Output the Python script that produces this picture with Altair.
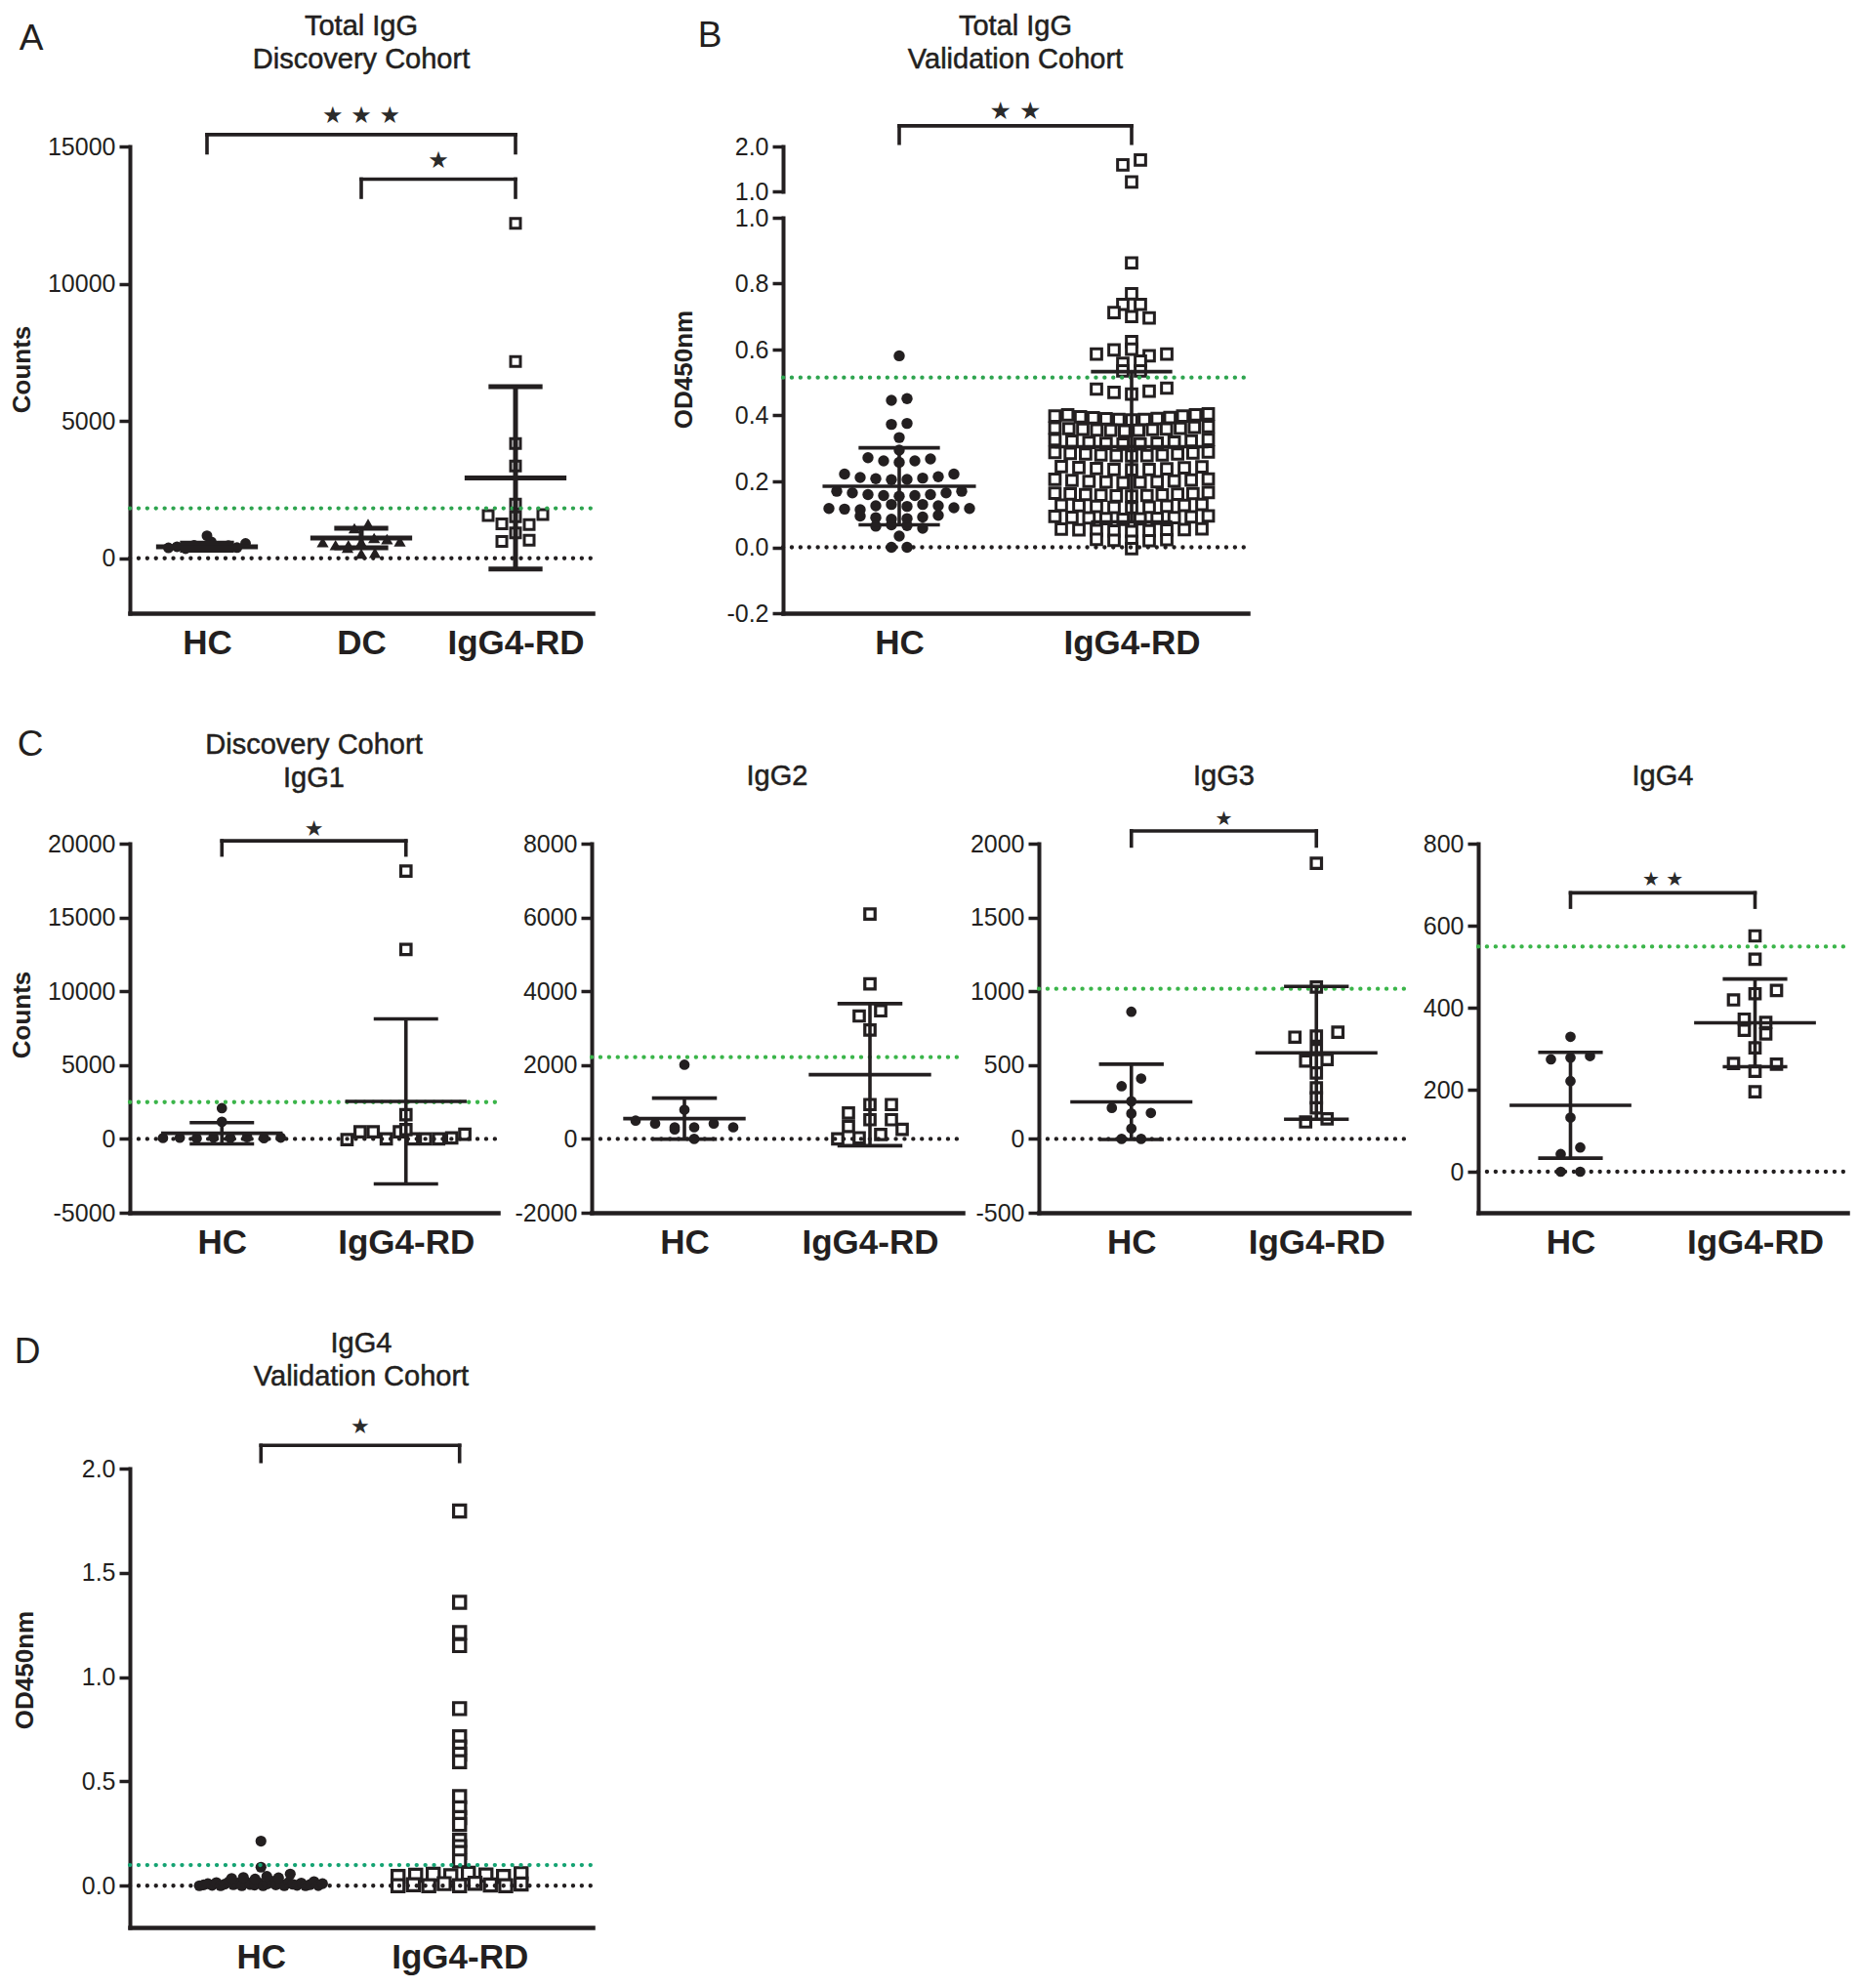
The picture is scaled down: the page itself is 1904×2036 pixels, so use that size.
import altair as alt
import pandas as pd

# ---------------- fonts and colours ----------------
FONT = "Liberation Sans"
STAR_FONT = "DejaVu Sans"
INK = "#231f20"
GREEN_AB = "#2ea44f"
GREEN_C = "#3bb54a"
GREEN_D = "#14a372"

# ---------------- values ----------------
# A: Total IgG, discovery cohort (counts)
A_GROUPS = ["HC", "DC", "IgG4-RD"]
A_HC = [380, 420, 350, 470, 440, 600, 410, 460, 390, 540, 820]
A_DC = [1095, 585, 480, 385, 170, 200, 480, 585, 740, 700, 1250, 620]
A_RD = [12195, 7170, 4180, 3360, 1970, 1250, 925, 1560, 1510, 1590, 1230, 615, 660]
A_MEAN = [420, 740, 2930]
A_SD = [130, 355, 3320]
A_CUTOFF = 1820
A_BRACKETS = [(0, 2, 15430, 14770, 16110, "★ ★ ★"),
              (1, 2, 13810, 13150, 14460, "★")]

# B: Total IgG, validation cohort (OD450nm)
B_GROUPS = ["HC", "IgG4-RD"]
B_HC = [0.581, 0.446, 0.451, 0.373, 0.376, 0.333, 0.295,
        0.272, 0.262, 0.258, 0.262, 0.268,
        0.222, 0.212, 0.208, 0.205, 0.206, 0.210, 0.214, 0.222,
        0.170, 0.165, 0.160, 0.157, 0.155, 0.157, 0.160, 0.165, 0.170,
        0.118, 0.116, 0.114, 0.126, 0.130, 0.124, 0.130, 0.126, 0.120, 0.118,
        0.095, 0.090, 0.085, 0.087, 0.092, 0.097,
        0.064, 0.068, 0.066, 0.058,
        0.034, 0.0, 0.0]
B_RD = [0.863, 0.769, 0.737, 0.737, 0.712, 0.700, 0.696, 0.624,
        0.586, 0.599, 0.601, 0.581, 0.586,
        0.558, 0.565, 0.535, 0.535,
        0.480, 0.470, 0.465, 0.474, 0.483,
        0.398, 0.402, 0.396, 0.393, 0.390, 0.388, 0.386, 0.388, 0.391, 0.394, 0.398, 0.402, 0.405,
        0.362, 0.360, 0.358, 0.356, 0.355, 0.353, 0.355, 0.357, 0.359, 0.361, 0.364, 0.366,
        0.326, 0.322, 0.318, 0.315, 0.313, 0.314, 0.316, 0.319, 0.323, 0.327,
        0.288, 0.285, 0.283, 0.280, 0.278, 0.277, 0.278, 0.280, 0.283, 0.286, 0.289,
        0.245, 0.242, 0.239, 0.236, 0.235, 0.236, 0.238, 0.241, 0.244,
        0.206, 0.203, 0.200, 0.198, 0.196, 0.197, 0.199, 0.201, 0.204, 0.207,
        0.164, 0.162, 0.160, 0.158, 0.156, 0.155, 0.157, 0.159, 0.161, 0.163, 0.166,
        0.128, 0.126, 0.124, 0.121, 0.120, 0.122, 0.125, 0.127, 0.130,
        0.094, 0.091, 0.089, 0.087, 0.085, 0.086, 0.088, 0.090, 0.092, 0.095,
        0.055, 0.053, 0.051, 0.049, 0.048, 0.050, 0.052, 0.054, 0.056,
        0.024, 0.021, 0.018, 0.020, 0.023, -0.004]
B_RD_HIGH = [1.59, 1.70, 1.21]
B_MEAN = [0.185, 0.305]
B_SD = [0.117, 0.228]
B_CUTOFF = 0.515
B_BRACKETS = [(0, 1, 1.279, 1.226, 1.323, "★ ★")]

# C: discovery cohort, IgG subclasses (counts)
C_GROUPS = ["HC", "IgG4-RD"]
C1_HC = [60, 80, 40, 100, 70, 120, 50, 90, 1160, 2080]
C1_RD = [-50, 480, 480, 0, 480, 0, 0, 0, 70, 310, 630, 1640, 12830, 18140]
C1_MEAN, C1_SD, C1_CUTOFF = [380, 2540], [720, 5590], 2490
C1_BRACKETS = [(0, 1, 20190, 19230, 21010, "★")]

C2_HC = [495, 255, 415, 315, 315, 415, 315, 790, 2010, 0]
C2_RD = [0, 30, 120, 260, 340, 520, 520, 700, 930, 930, 2950, 3330, 3470, 4200, 6090]
C2_MEAN, C2_SD, C2_CUTOFF = [550, 1740], [555, 1925], 2215

C3_HC = [861, 357, 409, 210, 172, 176, 255, 70, 0, 0]
C3_RD = [1867, 1028, 689, 696, 723, 605, 527, 538, 447, 346, 278, 210, 115, 136]
C3_MEAN, C3_SD, C3_CUTOFF = [251, 583], [255, 450], 1017
C3_BRACKETS = [(0, 1, 2086, 1984, 2165, "★")]

C4_HC = [329, 274, 278, 282, 221, 132, 43, 59, 0, 0]
C4_RD = [575, 518, 419, 434, 442, 372, 364, 345, 336, 302, 264, 245, 262, 195]
C4_MEAN, C4_SD, C4_CUTOFF = [162, 363], [129, 107], 549
C4_BRACKETS = [(0, 1, 680, 645, 711, "★ ★")]

# D: IgG4, validation cohort (OD450nm)
D_GROUPS = ["HC", "IgG4-RD"]
D_HC = [0.0, 0.004, 0.010, 0.002, 0.015, 0.0, 0.008, 0.020, 0.005, 0.012,
        0.0, 0.018, 0.006, 0.003, 0.014, 0.0, 0.009, 0.022, 0.004, 0.011,
        0.0, 0.016, 0.007, 0.002, 0.013, 0.0, 0.005, 0.020, 0.001, 0.010,
        0.035, 0.040, 0.032, 0.045, 0.038, 0.056, 0.089, 0.214]
D_RD = [1.796, 1.359, 1.214, 1.151, 0.849, 0.714, 0.665, 0.631, 0.595,
        0.427, 0.373, 0.327, 0.294, 0.218, 0.188, 0.159, 0.119,
        0.045, 0.050, 0.055, 0.048, 0.060, 0.052, 0.045, 0.058,
        0.0, 0.005, 0.0, 0.010, 0.0, 0.012, 0.004, 0.0, 0.008]
D_CUTOFF = 0.099
D_BRACKETS = [(0, 1, 2.111, 2.034, 2.202, "★")]

MINUS_FIX = "replace(datum.label, '\u2212', '-')"


def swarm(values, y_px, x_px, bin_px, step_px, max_half):
    """Column-scatter layout: values closer than bin_px share a row and are
    spread symmetrically around the group centre (in x data units)."""
    order = sorted(range(len(values)), key=lambda i: values[i])
    rows = []
    for i in order:
        if rows and (values[i] - values[rows[-1][0]]) * y_px <= bin_px:
            rows[-1].append(i)
        else:
            rows.append([i])
    dx = [0.0] * len(values)
    for row in rows:
        row.sort()
        n = len(row)
        step = step_px / x_px
        if n > 1 and (n - 1) * step / 2 > max_half:
            step = 2 * max_half / (n - 1)
        for k, i in enumerate(row):
            dx[i] = (k - (n - 1) / 2) * step
    return dx


def panel(c):
    groups = c["groups"]
    xdom, vis_w, tot_w, H = c["xdom"], c["vis_w"], c["tot_w"], c["height"]
    ydom = c["ydom"]
    yrange = c.get("yrange", [H, 0])
    x_px = vis_w / (xdom[1] - xdom[0])
    y_px = (yrange[0] - yrange[1]) / (ydom[1] - ydom[0])
    xscale = alt.Scale(domain=xdom, range=[0, vis_w], nice=False, zero=False)
    yscale = alt.Scale(domain=ydom, range=yrange, nice=False, zero=False)
    parts = [f"datum.value == {i} ? '{g}'" for i, g in enumerate(groups[:-1])]
    label_expr = " : ".join(parts) + f" : '{groups[-1]}'"
    xaxis = alt.Axis(values=list(range(len(groups))), labelExpr=label_expr, title="")
    yargs = dict(values=c["yticks"], format=c["yfmt"], labelExpr=MINUS_FIX)
    if c.get("ytitle"):
        yargs.update(title=c["ytitle"], titleX=c["ytitle_x"], titleY=c["ytitle_y"],
                     titleAngle=270, titleBaseline="middle", titleAlign="center")
    else:
        yargs.update(title="")
    yaxis = alt.Axis(**yargs)

    def X(f):
        return alt.X(f, scale=xscale, axis=xaxis)

    def Y(f):
        return alt.Y(f, scale=yscale, axis=yaxis)

    layers = []
    for s in c["series"]:
        dx = swarm(s["values"], y_px, x_px, s["bin"], s["step"], s["half"])
        df = pd.DataFrame({"g": s["g"], "v": s["values"], "dx": dx})
        base = alt.Chart(df).transform_calculate(xp="datum.g + datum.dx")
        if s["shape"] == "circle":
            m = base.mark_circle(size=s["size"], color=INK, opacity=1)
        elif s["shape"] == "triangle":
            m = base.mark_point(shape="triangle-up", filled=True, size=s["size"],
                                color=INK, opacity=1)
        else:
            m = base.mark_point(shape="square", fill="white", stroke=INK,
                                strokeWidth=s["sw"], size=s["size"], opacity=1,
                                fillOpacity=1)
        layers.append(m.encode(x=X("xp:Q"), y=Y("v:Q")))

    # reference lines: zero and cut-off
    for yv, col in [(0.0, INK), (c["cutoff"], c["green"])]:
        ref = pd.DataFrame({"x1": [xdom[0]], "x2": [xdom[1]], "y": [yv]})
        layers.append(alt.Chart(ref).mark_rule(
            color=col, strokeWidth=4.3, strokeDash=[0.1, 8.8], strokeCap="round"
        ).encode(x=X("x1:Q"), x2="x2:Q", y=Y("y:Q")))

    # mean +/- SD
    if c.get("means"):
        ms = pd.DataFrame({"g": list(range(len(c["means"]))), "m": c["means"], "s": c["sds"]})
        mh, ch, lw = 0.33, 0.175, c["lw"]
        base = alt.Chart(ms).transform_calculate(
            lo="datum.m - datum.s", hi="datum.m + datum.s",
            a1=f"datum.g - {mh}", a2=f"datum.g + {mh}",
            c1=f"datum.g - {ch}", c2=f"datum.g + {ch}")
        rk = dict(color=INK, strokeWidth=lw)
        layers += [
            base.mark_rule(**rk).encode(x=X("g:Q"), y=Y("lo:Q"), y2="hi:Q"),
            base.mark_rule(**rk).encode(x=X("a1:Q"), x2="a2:Q", y=Y("m:Q")),
            base.mark_rule(**rk).encode(x=X("c1:Q"), x2="c2:Q", y=Y("hi:Q")),
            base.mark_rule(**rk).encode(x=X("c1:Q"), x2="c2:Q", y=Y("lo:Q")),
        ]

    # significance brackets
    if c.get("brackets"):
        b = pd.DataFrame(c["brackets"], columns=["g1", "g2", "bar", "leg", "sv", "stars"])
        base = alt.Chart(b).transform_calculate(gm="(datum.g1 + datum.g2) / 2")
        bk = dict(color=INK, strokeWidth=3.6, strokeCap="square")
        layers += [
            base.mark_rule(**bk).encode(x=X("g1:Q"), x2="g2:Q", y=Y("bar:Q")),
            base.mark_rule(**bk).encode(x=X("g1:Q"), y=Y("bar:Q"), y2="leg:Q"),
            base.mark_rule(**bk).encode(x=X("g2:Q"), y=Y("bar:Q"), y2="leg:Q"),
            base.mark_text(font=STAR_FONT, fontSize=c["star_size"], color="#2b2b2b",
                           align="center", baseline="middle").encode(
                x=X("gm:Q"), y=Y("sv:Q"), text="stars:N"),
        ]

    # panel title (first line centred on title_y) and panel letter
    layers.append(alt.Chart(pd.DataFrame({"t": [c["title"]]})).mark_text(
        font=FONT, fontSize=29, color=INK, lineHeight=34, lineBreak="\n",
        align="center", baseline="middle", stroke=INK, strokeWidth=0.5).encode(
        x=alt.value(vis_w / 2), y=alt.value(c["title_y"]), text="t:N"))
    if c.get("letter"):
        layers.append(alt.Chart(pd.DataFrame({"t": [c["letter"]]})).mark_text(
            font=FONT, fontSize=37, color=INK, align="center", baseline="middle").encode(
            x=alt.value(c["letter_x"]), y=alt.value(c["letter_y"]), text="t:N"))

    main = alt.layer(*layers)
    if c.get("upper"):
        u = c["upper"]
        uyscale = alt.Scale(domain=u["ydom"], range=u["yrange"], nice=False, zero=False)
        uaxis = alt.Axis(values=u["yticks"], format=".1f", labelExpr=MINUS_FIX,
                         orient="left", title="")
        uy_px = (u["yrange"][0] - u["yrange"][1]) / (u["ydom"][1] - u["ydom"][0])
        dx = swarm(u["values"], uy_px, x_px, 7, 18, 0.33)
        df = pd.DataFrame({"g": u["g"], "v": u["values"], "dx": dx})
        up = alt.Chart(df).transform_calculate(xp="datum.g + datum.dx").mark_point(
            shape="square", fill="white", stroke=INK, strokeWidth=u["sw"],
            size=u["size"], opacity=1, fillOpacity=1).encode(
            x=X("xp:Q"), y=alt.Y("v:Q", scale=uyscale, axis=uaxis))
        main = alt.layer(main, up).resolve_scale(y="independent")
    return main.properties(width=tot_w, height=H)


def spacer(w=1):
    return alt.Chart(pd.DataFrame({"s": [0]})).mark_point(opacity=0).encode(
        x=alt.X("s:Q", axis=None), y=alt.Y("s:Q", axis=None)).properties(width=w, height=1)


# grid column widths (flush bounds, aligned columns)
COL = [473, 196, 262, 450, 378]
H_TOP, H_C, D_EXTRA, H_D = 478, 378, 26, 470

panel_A = panel(dict(
    groups=A_GROUPS, xdom=[-0.5, 2.5], vis_w=474, tot_w=COL[0], height=H_TOP,
    ydom=[-2000, 15000], yticks=[0, 5000, 10000, 15000], yfmt="d",
    ytitle="Counts", ytitle_x=-111, ytitle_y=228,
    series=[
        dict(g=0, values=A_HC, shape="circle", size=120, bin=8, step=14, half=0.25),
        dict(g=1, values=A_DC, shape="triangle", size=150, bin=8, step=14, half=0.25),
        dict(g=2, values=A_RD, shape="square", size=100, sw=3, bin=7, step=28, half=0.26),
    ],
    cutoff=A_CUTOFF, green=GREEN_AB, means=A_MEAN, sds=A_SD, lw=5,
    brackets=A_BRACKETS, star_size=24,
    title="Total IgG\nDiscovery Cohort", title_y=-123,
    letter="A", letter_x=-101, letter_y=-110))

panel_B = panel(dict(
    groups=B_GROUPS, xdom=[-0.5, 1.5], vis_w=476, tot_w=COL[2], height=H_TOP,
    ydom=[-0.2, 1.0], yrange=[H_TOP, 73], yticks=[-0.2, 0.0, 0.2, 0.4, 0.6, 0.8, 1.0], yfmt=".1f",
    ytitle="OD450nm", ytitle_x=-102, ytitle_y=228,
    series=[
        dict(g=0, values=B_HC, shape="circle", size=130, bin=7, step=16, half=0.32),
        dict(g=1, values=B_RD, shape="square", size=115, sw=3, bin=7, step=18, half=0.33),
    ],
    upper=dict(g=1, values=B_RD_HIGH, ydom=[1.0, 2.0], yrange=[46, 0], yticks=[1.0, 2.0],
               size=115, sw=3),
    cutoff=B_CUTOFF, green=GREEN_AB, means=B_MEAN, sds=B_SD, lw=3.6,
    brackets=B_BRACKETS, star_size=25,
    title="Total IgG\nValidation Cohort", title_y=-123,
    letter="B", letter_x=-75, letter_y=-113))


def c_panel(title, title_y, hc, rd, mean, sd, cutoff, ydom, yticks, vis_w, tot_w,
            brackets=None, star_size=20, ytitle=None, letter=None):
    cfg = dict(
        groups=C_GROUPS, xdom=[-0.5, 1.5], vis_w=vis_w, tot_w=tot_w, height=H_C,
        ydom=ydom, yticks=yticks, yfmt="d",
        series=[
            dict(g=0, values=hc, shape="circle", size=115, bin=10, step=20, half=0.32),
            dict(g=1, values=rd, shape="square", size=110, sw=3.2, bin=10, step=22, half=0.32),
        ],
        cutoff=cutoff, green=GREEN_C, means=mean, sds=sd, lw=3.6,
        brackets=brackets, star_size=star_size, title=title, title_y=title_y)
    if ytitle:
        cfg.update(ytitle=ytitle, ytitle_x=-111, ytitle_y=175)
    if letter:
        cfg.update(letter=letter, letter_x=-102, letter_y=-101)
    return panel(cfg)


panel_C1 = c_panel("Discovery Cohort\nIgG1", -101, C1_HC, C1_RD, C1_MEAN, C1_SD, C1_CUTOFF,
                   [-5000, 20000], [-5000, 0, 5000, 10000, 15000, 20000], 377, COL[0],
                   brackets=C1_BRACKETS, star_size=22, ytitle="Counts", letter="C")
panel_C2 = c_panel("IgG2", -69.5, C2_HC, C2_RD, C2_MEAN, C2_SD, C2_CUTOFF,
                   [-2000, 8000], [-2000, 0, 2000, 4000, 6000, 8000], 380, COL[1])
panel_C3 = c_panel("IgG3", -69.5, C3_HC, C3_RD, C3_MEAN, C3_SD, C3_CUTOFF,
                   [-500, 2000], [-500, 0, 500, 1000, 1500, 2000], 379, COL[3],
                   brackets=C3_BRACKETS, star_size=20)
panel_C4 = c_panel("IgG4", -69.5, C4_HC, C4_RD, C4_MEAN, C4_SD, C4_CUTOFF,
                   [-100, 800], [0, 200, 400, 600, 800], 378, COL[4],
                   brackets=C4_BRACKETS, star_size=20)

panel_D = panel(dict(
    groups=D_GROUPS, xdom=[-0.66, 1.67], vis_w=474, tot_w=COL[0], height=D_EXTRA + H_D,
    ydom=[-0.2, 2.0], yrange=[D_EXTRA + H_D, D_EXTRA], yticks=[0.0, 0.5, 1.0, 1.5, 2.0],
    yfmt=".1f", ytitle="OD450nm", ytitle_x=-108, ytitle_y=D_EXTRA + 206,
    series=[
        dict(g=0, values=D_HC, shape="circle", size=125, bin=6, step=12, half=0.31),
        dict(g=1, values=D_RD, shape="square", size=150, sw=3.2, bin=6, step=18, half=0.31),
    ],
    cutoff=D_CUTOFF, green=GREEN_D,
    brackets=D_BRACKETS, star_size=22,
    title="IgG4\nValidation Cohort", title_y=D_EXTRA - 128,
    letter="D", letter_x=-105, letter_y=D_EXTRA - 119.5))

chart = alt.concat(
    panel_A, spacer(COL[1]), panel_B, spacer(), spacer(),
    panel_C1, panel_C2, spacer(), panel_C3, panel_C4,
    panel_D,
    columns=5, spacing={"row": 236, "column": 0}, bounds="flush", align="each",
).properties(padding={"top": 4, "left": 0, "right": 0, "bottom": 0}).configure_view(
    stroke="transparent"
).configure_axis(
    grid=False, domainColor=INK, domainWidth=4, domainCap="square",
    tickColor=INK, tickWidth=3.5, tickSize=11,
    labelColor=INK, labelFont=FONT, labelFontSize=25, labelPadding=4,
    labelFlush=False, labelOverlap=False,
    titleColor=INK, titleFont=FONT, titleFontSize=26, titleFontWeight="bold",
).configure_axisX(
    ticks=False, tickSize=0, labelFontSize=35, labelFontWeight="bold",
    labelPadding=13, domainWidth=4.5,
)

chart.save("out.html", embed_options={"renderer": "svg", "actions": False})
